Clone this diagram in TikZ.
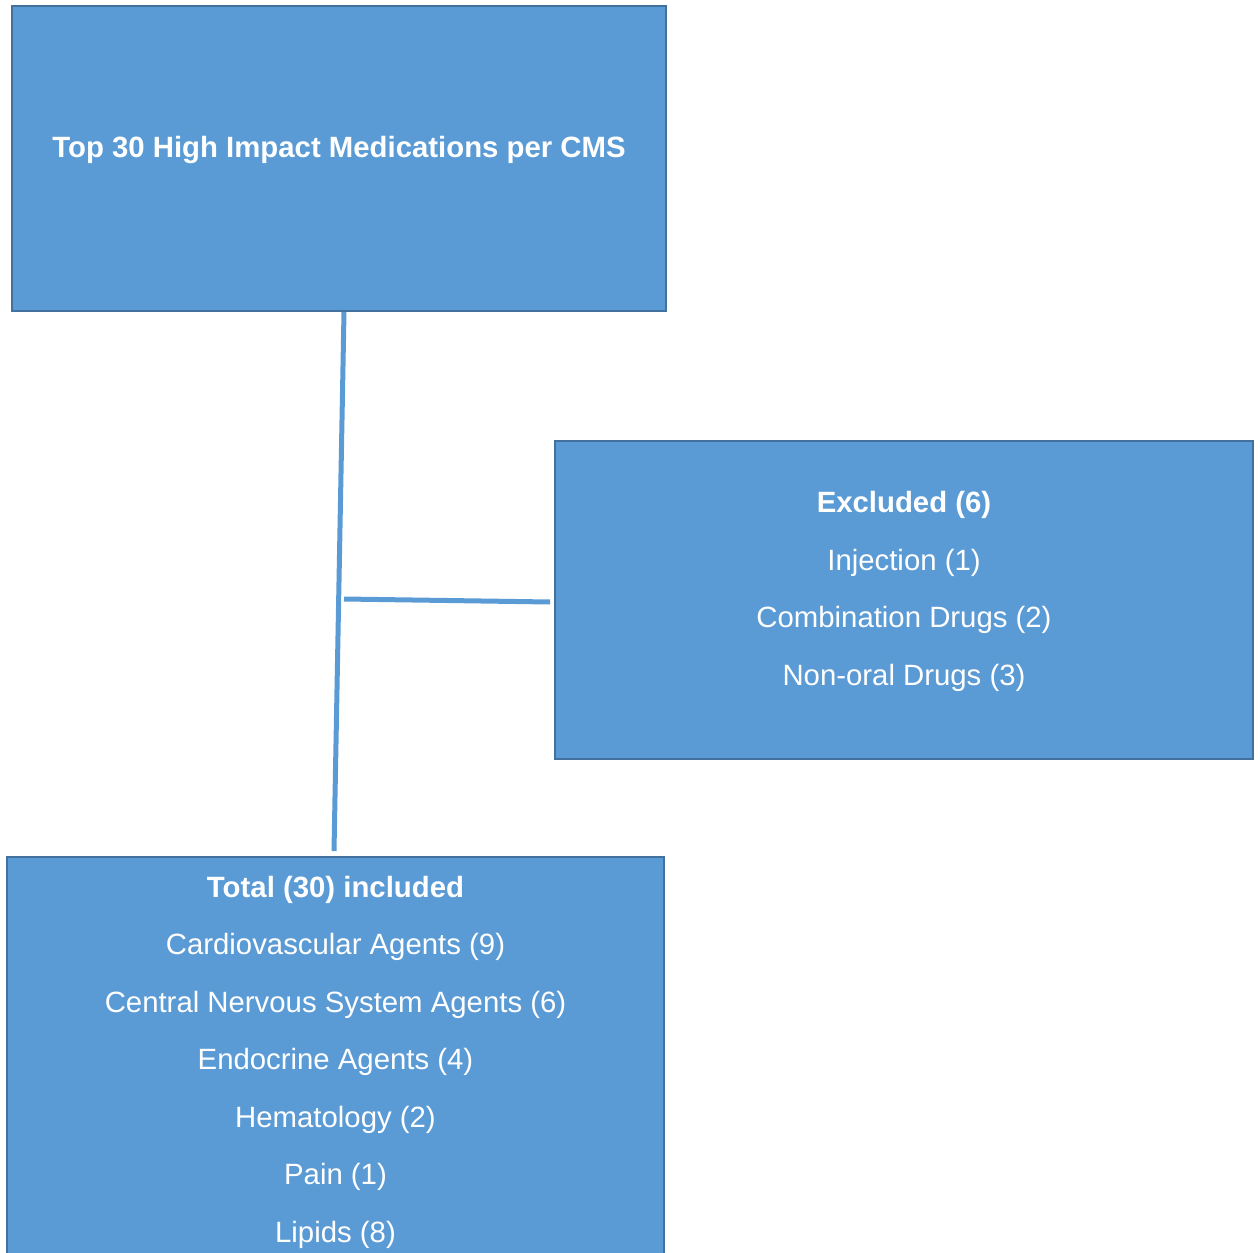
\documentclass[tikz,border=0pt]{standalone}
\usepackage{fontspec}
\setmainfont{Liberation Sans}
\usetikzlibrary{positioning}

\definecolor{boxblue}{HTML}{5B9BD5}
\definecolor{boxedge}{HTML}{41719C}

\begin{document}
\begin{tikzpicture}[x=0.02cm, y=-0.02cm,
  % Node Styles
  bluebox/.style={rectangle, draw=boxedge, line width=0.04cm, fill=boxblue, inner sep=0pt},
  boxtext/.style={text=white, align=center, anchor=base, font=\fontsize{16.7}{32.7}\selectfont},
  % Line Styles
  link/.style={draw=boxblue, line width=0.1cm},
]
\clip (0,0) rectangle (1260,1253);

% Flow diagram: high impact medications

\node[bluebox, minimum width=13.08cm, minimum height=6.10cm] (top) at (339,158.5) {};
\node[bluebox, minimum width=13.96cm, minimum height=6.36cm] (excluded) at (904,600) {};
\node[bluebox, minimum width=13.14cm, minimum height=8.36cm] (total) at (335.5,1066) {};

% text anchored at the baseline of the last line
\node[boxtext] (toptext) at (339,158) {\textbf{Top 30 High Impact Medications per CMS}};
\node[boxtext] (exctext) at (904,685) {\textbf{Excluded (6)}\\Injection (1)\\Combination Drugs (2)\\Non-oral Drugs (3)};
\node[boxtext] (totaltext) at (335.5,1242) {\textbf{Total (30) included}\\Cardiovascular Agents (9)\\Central Nervous System Agents (6)\\Endocrine Agents (4)\\Hematology (2)\\Pain (1)\\Lipids (8)};

\coordinate (branch) at (344,599);

\draw[link] ([xshift=0.1cm]top.south) -- ([xshift=-0.03cm,yshift=0.1cm]total.north);
\draw[link] (branch) -- ([xshift=-0.08cm,yshift=-0.04cm]excluded.west);

\end{tikzpicture}
\end{document}
